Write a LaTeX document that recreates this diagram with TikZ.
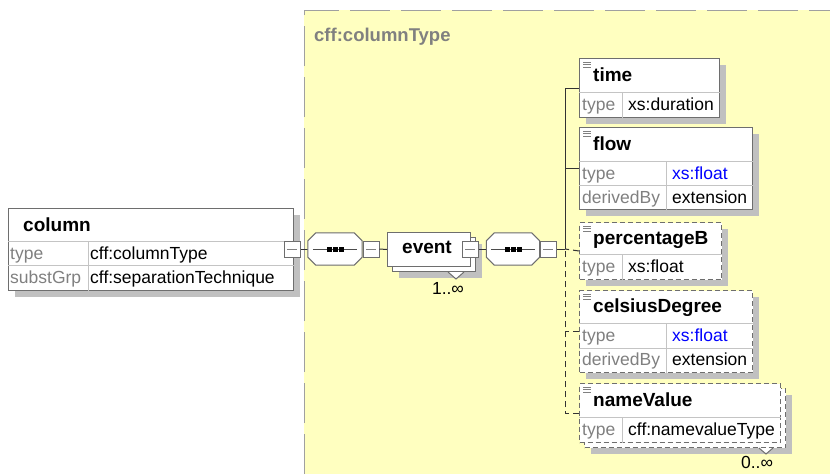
\documentclass[tikz,border=0pt]{standalone}
\usepackage{fontspec}
\setmainfont{Liberation Sans}
\usetikzlibrary{positioning, calc, shadows}

\definecolor{bgyellow}{RGB}{255,255,192}
\definecolor{shadowgray}{RGB}{192,192,192}
\definecolor{framegray}{RGB}{110,110,110}
\definecolor{cellgray}{RGB}{196,196,196}
\definecolor{labelgray}{RGB}{128,128,128}
\definecolor{bordergray}{RGB}{160,160,160}
\definecolor{linkblue}{RGB}{0,0,255}

\begin{document}
\begin{tikzpicture}[
    x=1pt, y=-1pt,
    font=\fontsize{17.5}{20}\selectfont,
    elem/.style={
        rectangle, draw=framegray, line width=1pt, fill=white,
        anchor=north west, inner sep=0pt,
        drop shadow={shadow xshift=6pt, shadow yshift=-6pt,
            fill=shadowgray, opacity=1}
    },
    plainelem/.style={
        rectangle, draw=framegray, line width=1pt, fill=white,
        anchor=north west, inner sep=0pt
    },
    optional/.style={dash pattern=on 5pt off 3pt},
    ename/.style={anchor=base west, inner sep=0pt,
        font=\fontsize{19}{21}\selectfont\bfseries},
    lbl/.style={anchor=base west, inner sep=0pt, text=labelgray},
    val/.style={anchor=base west, inner sep=0pt},
    cellline/.style={draw=cellgray, line width=1pt},
    port/.style={
        rectangle, draw=framegray, line width=1pt, fill=white,
        minimum size=16pt, inner sep=0pt,
        path picture={\draw[labelgray, line width=1pt]
            ([xshift=3pt]path picture bounding box.west) --
            ([xshift=-3pt]path picture bounding box.east);}
    },
    seq/.style={rectangle, minimum height=32pt, inner sep=0pt},
    seqframe/.style={draw=framegray, line width=1pt, fill=white},
    link/.style={draw=black!80, line width=1pt},
    optlink/.style={link, dash pattern=on 6pt off 4pt},
]

\useasboundingbox (0,0) rectangle (830,474);

% type area
\fill[bgyellow] (304,10) rectangle (830,474);
\draw[bordergray, line width=1pt, dash pattern=on 40pt off 11pt]
    (304,474) -- (304,10) -- (830,10);
\node[anchor=base west, inner sep=0pt, text=labelgray,
    font=\fontsize{18.5}{21}\selectfont\bfseries] (typeName) at (314,41) {cff:columnType};

% connectors
\coordinate (bus) at (565,249);
\node[port] (colPort) at (292,249) {};
\node[seq, minimum width=54pt] (seqA) at (335,249) {};
\node[seq, minimum width=53pt] (seqB) at (513,249) {};
\draw[link] (colPort.east) -- (seqA.west);
\draw[link] (seqB.east) -- (bus);

% sequence compositors (octagons with shadow)
\foreach \s in {seqA,seqB} {
    \begin{scope}[shift={(6,6)}]
        \fill[shadowgray] ([shift={(8,0)}]\s.north west) -- ([shift={(-8,0)}]\s.north east)
            -- ([shift={(0,8)}]\s.north east) -- ([shift={(0,-8)}]\s.south east)
            -- ([shift={(-8,0)}]\s.south east) -- ([shift={(8,0)}]\s.south west)
            -- ([shift={(0,-8)}]\s.south west) -- ([shift={(0,8)}]\s.north west) -- cycle;
    \end{scope}
    \path[seqframe] ([shift={(8,0)}]\s.north west) -- ([shift={(-8,0)}]\s.north east)
        -- ([shift={(0,8)}]\s.north east) -- ([shift={(0,-8)}]\s.south east)
        -- ([shift={(-8,0)}]\s.south east) -- ([shift={(8,0)}]\s.south west)
        -- ([shift={(0,-8)}]\s.south west) -- ([shift={(0,8)}]\s.north west) -- cycle;
    \draw[link, black!70] ([xshift=5pt]\s.west) -- ([xshift=-5pt]\s.east);
    \foreach \dx in {-6,0,6}
        \fill ([xshift=\dx pt]\s.center) +(-2.5,-2.5) rectangle +(2.5,2.5);
}

% column
\node[elem, minimum width=285, minimum height=82] (column) at (8,208) {};
\node[ename] (columnName) at ([shift={(15,23)}]column.north west) {column};
\draw[cellline] ([shift={(0,33)}]column.north west) -- ([shift={(0,33)}]column.north east);
\draw[cellline] ([shift={(0,57)}]column.north west) -- ([shift={(0,57)}]column.north east);
\draw[cellline] ([shift={(80,33)}]column.north west) -- ([shift={(80,0)}]column.south west);
\node[lbl] (columnType) at ([shift={(2,51)}]column.north west) {type};
\node[val] (columnTypeVal) at ([shift={(82,51)}]column.north west) {cff:columnType};
\node[lbl] (columnSubst) at ([shift={(2,75)}]column.north west) {substGrp};
\node[val] (columnSubstVal) at ([shift={(82,75)}]column.north west) {cff:separationTechnique};
\node[port] (colPort) at (292,249) {};

% event
\node[elem, minimum width=83, minimum height=34] (eventBack) at (392,237) {};
\filldraw[fill=white, draw=framegray, line width=1pt]
    ([shift={(-28,0)}]eventBack.south east) -- ([shift={(-20,7)}]eventBack.south east)
    -- ([shift={(-12,0)}]eventBack.south east);
\node[plainelem, minimum width=83, minimum height=34] (event) at (387,232) {};
\node[font=\fontsize{19}{21}\selectfont\bfseries, inner sep=0pt, anchor=base]
    (eventName) at ([shift={(-2,21)}]event.north) {event};
\node[anchor=base, inner sep=0pt] (eventOcc) at (448,294) {1..∞};
\node[port] (seqAPort) at (371,249) {};
\node[port] (eventPort) at (470,249) {};
\node[port] (seqBPort) at (548,249) {};
\draw[link] (seqAPort.east) -- (event.west);
\draw[link] (eventPort.east) -- (seqB.west);

% time
\node[elem, minimum width=140, minimum height=59] (time) at (579,58) {};
\node[ename] (timeName) at ([shift={(14,23)}]time.north west) {time};
\draw[cellline] ([shift={(0,34)}]time.north west) -- ([shift={(0,34)}]time.north east);
\draw[cellline] ([shift={(43,34)}]time.north west) -- ([shift={(43,0)}]time.south west);
\node[lbl] (timeType) at ([shift={(3,52)}]time.north west) {type};
\node[val] (timeTypeVal) at ([shift={(49,52)}]time.north west) {xs:duration};

% flow
\node[elem, minimum width=173, minimum height=82] (flow) at (579,127) {};
\node[ename] (flowName) at ([shift={(14,23)}]flow.north west) {flow};
\draw[cellline] ([shift={(0,34)}]flow.north west) -- ([shift={(0,34)}]flow.north east);
\draw[cellline] ([shift={(0,58)}]flow.north west) -- ([shift={(0,58)}]flow.north east);
\draw[cellline] ([shift={(87,34)}]flow.north west) -- ([shift={(87,0)}]flow.south west);
\node[lbl] (flowType) at ([shift={(3,52)}]flow.north west) {type};
\node[val, text=linkblue] (flowTypeVal) at ([shift={(93,52)}]flow.north west) {xs:float};
\node[lbl] (flowDerived) at ([shift={(3,76)}]flow.north west) {derivedBy};
\node[val] (flowDerivedVal) at ([shift={(93,76)}]flow.north west) {extension};

% percentageB
\node[elem, optional, minimum width=142, minimum height=57] (percentageB) at (579,222) {};
\node[ename] (percentageBName) at ([shift={(14,22)}]percentageB.north west) {percentageB};
\draw[cellline] ([shift={(0,32)}]percentageB.north west) -- ([shift={(0,32)}]percentageB.north east);
\draw[cellline] ([shift={(43,32)}]percentageB.north west) -- ([shift={(43,0)}]percentageB.south west);
\node[lbl] (percentageBType) at ([shift={(3,50)}]percentageB.north west) {type};
\node[val] (percentageBTypeVal) at ([shift={(49,50)}]percentageB.north west) {xs:float};

% celsiusDegree
\node[elem, optional, minimum width=173, minimum height=82] (celsiusDegree) at (579,290) {};
\node[ename] (celsiusDegreeName) at ([shift={(14,22)}]celsiusDegree.north west) {celsiusDegree};
\draw[cellline] ([shift={(0,33)}]celsiusDegree.north west) -- ([shift={(0,33)}]celsiusDegree.north east);
\draw[cellline] ([shift={(0,58)}]celsiusDegree.north west) -- ([shift={(0,58)}]celsiusDegree.north east);
\draw[cellline] ([shift={(87,33)}]celsiusDegree.north west) -- ([shift={(87,0)}]celsiusDegree.south west);
\node[lbl] (celsiusDegreeType) at ([shift={(3,51)}]celsiusDegree.north west) {type};
\node[val, text=linkblue] (celsiusDegreeTypeVal) at ([shift={(93,51)}]celsiusDegree.north west) {xs:float};
\node[lbl] (celsiusDegreeDerived) at ([shift={(3,75)}]celsiusDegree.north west) {derivedBy};
\node[val] (celsiusDegreeDerivedVal) at ([shift={(93,75)}]celsiusDegree.north west) {extension};

% nameValue
\node[elem, optional, minimum width=201, minimum height=59] (nameValueBack) at (584,388) {};
\filldraw[fill=white, draw=framegray, line width=1pt]
    ([shift={(-27,0)}]nameValueBack.south east) -- ([shift={(-20,6)}]nameValueBack.south east)
    -- ([shift={(-13,0)}]nameValueBack.south east);
\node[plainelem, optional, minimum width=201, minimum height=59] (nameValue) at (579,383) {};
\node[ename] (nameValueName) at ([shift={(14,23)}]nameValue.north west) {nameValue};
\draw[cellline] ([shift={(0,34)}]nameValue.north west) -- ([shift={(0,34)}]nameValue.north east);
\draw[cellline] ([shift={(43,34)}]nameValue.north west) -- ([shift={(43,0)}]nameValue.south west);
\node[lbl] (nameValueType) at ([shift={(3,52)}]nameValue.north west) {type};
\node[val] (nameValueTypeVal) at ([shift={(49,52)}]nameValue.north west) {cff:namevalueType};
\node[anchor=base, inner sep=0pt] (nameValueOcc) at (757,468) {0..∞};

% element icons
\foreach \n in {time,flow,percentageB,celsiusDegree,nameValue}
    \foreach \dy in {4,6.5,9}
        \draw[labelgray, line width=0.8pt] ([shift={(4,\dy)}]\n.north west) -- +(8,0);

% branches of the sequence
\draw[link] (time.west) -| (bus);
\draw[link] (flow.west) -- (flow.west -| bus);
\draw[optlink] (percentageB.west) -- (bus);
\draw[optlink] (celsiusDegree.west) -- (celsiusDegree.west -| bus);
\draw[optlink] (nameValue.west) -| (bus);

\end{tikzpicture}
\end{document}
